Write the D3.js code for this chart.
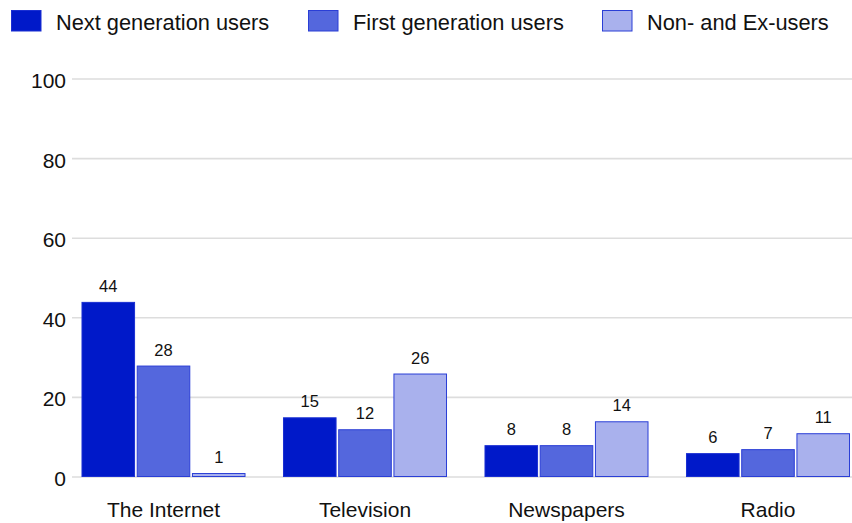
<!DOCTYPE html>
<html>
<head>
<meta charset="utf-8">
<script src="https://cdn.jsdelivr.net/npm/d3@7"></script>
<style>
  html, body { margin: 0; padding: 0; background: #fff; }
  svg { display: block; font-family: "Liberation Sans", Arial, Helvetica, sans-serif; }
</style>
</head>
<body>
<svg id="chart" width="852" height="523"></svg>
<script>
// Media categories along the x axis
const categories = ["The Internet", "Television", "Newspapers", "Radio"];

// User groups (one bar per group in each category)
const seriesNames = ["Next generation users", "First generation users", "Non- and Ex-users"];

// Values per group, in category order
const nextGeneration = [44, 15, 8, 6];
const firstGeneration = [28, 12, 8, 7];
const nonAndExUsers = [1, 26, 14, 11];

const yTicks = [0, 20, 40, 60, 80, 100];

const seriesValues = [nextGeneration, firstGeneration, nonAndExUsers];
const fills = ["#0019c9", "#5467dd", "#a9b1ed"];
const strokes = ["#1a2fd2", "#2a3ed6", "#2a3ed6"];

const svg = d3.select("#chart");

const x0 = d3.scaleBand()
  .domain(categories)
  .range([62.75, 868.75])
  .paddingInner(0.186)
  .paddingOuter(0.093);

const x1 = d3.scaleBand()
  .domain(seriesNames)
  .range([0, x0.bandwidth()])
  .paddingInner(0.03);

const y = d3.scaleLinear().domain([0, 100]).range([477, 79]);

// Horizontal grid lines
svg.append("g")
  .selectAll("line")
  .data(yTicks)
  .join("line")
  .attr("x1", 72)
  .attr("x2", 852)
  .attr("y1", d => y(d))
  .attr("y2", d => y(d))
  .attr("stroke", "#dddddd")
  .attr("stroke-width", 1.6);

// Y axis tick labels
const yAxis = d3.axisLeft(y).tickValues(yTicks).tickSize(0).tickPadding(6);
const yg = svg.append("g").attr("transform", "translate(72,0)").call(yAxis);
yg.select(".domain").remove();
yg.selectAll("text")
  .attr("font-size", 21)
  .attr("fill", "#111")
  .attr("font-family", "Liberation Sans, Arial, sans-serif")
  .attr("dy", "0.4em");

// X axis category labels
const xAxis = d3.axisBottom(x0).tickSize(0).tickPadding(0);
const xg = svg.append("g").attr("transform", "translate(0,477)").call(xAxis);
xg.select(".domain").remove();
xg.selectAll("text")
  .attr("font-size", 21)
  .attr("fill", "#111")
  .attr("font-family", "Liberation Sans, Arial, sans-serif")
  .attr("y", 39.5)
  .attr("dy", 0);

// Rows of bar data built from the arrays above
const rows = categories.map((c, i) => ({
  category: c,
  values: seriesNames.map((s, k) => ({ series: s, k, value: seriesValues[k][i] }))
}));

const groups = svg.append("g")
  .selectAll("g")
  .data(rows)
  .join("g")
  .attr("transform", d => `translate(${x0(d.category)},0)`);

groups.selectAll("rect")
  .data(d => d.values)
  .join("rect")
  .attr("x", d => x1(d.series) + 0.5)
  .attr("width", x1.bandwidth() - 1)
  .attr("y", d => y(d.value) + 0.5)
  .attr("height", d => Math.max(0, y(0) - y(d.value) - 1))
  .attr("fill", d => fills[d.k])
  .attr("stroke", d => strokes[d.k])
  .attr("stroke-width", 1);

// Value labels above the bars
groups.selectAll("text")
  .data(d => d.values)
  .join("text")
  .attr("x", d => x1(d.series) + x1.bandwidth() / 2)
  .attr("y", d => y(d.value) - 10)
  .attr("text-anchor", "middle")
  .attr("font-size", 16.5)
  .attr("fill", "#111")
  .text(d => d.value);

// Legend
const legendX = [11, 308, 602];
const legend = svg.append("g")
  .selectAll("g")
  .data(seriesNames)
  .join("g")
  .attr("transform", (d, i) => `translate(${legendX[i]},0)`);

legend.append("rect")
  .attr("x", 0.5)
  .attr("y", 10.5)
  .attr("width", 29.5)
  .attr("height", 20.5)
  .attr("fill", (d, i) => fills[i])
  .attr("stroke", (d, i) => strokes[i])
  .attr("stroke-width", 1);

legend.append("text")
  .attr("x", 45)
  .attr("y", 30)
  .attr("font-size", 21.8)
  .attr("fill", "#111")
  .text(d => d);
</script>
</body>
</html>
